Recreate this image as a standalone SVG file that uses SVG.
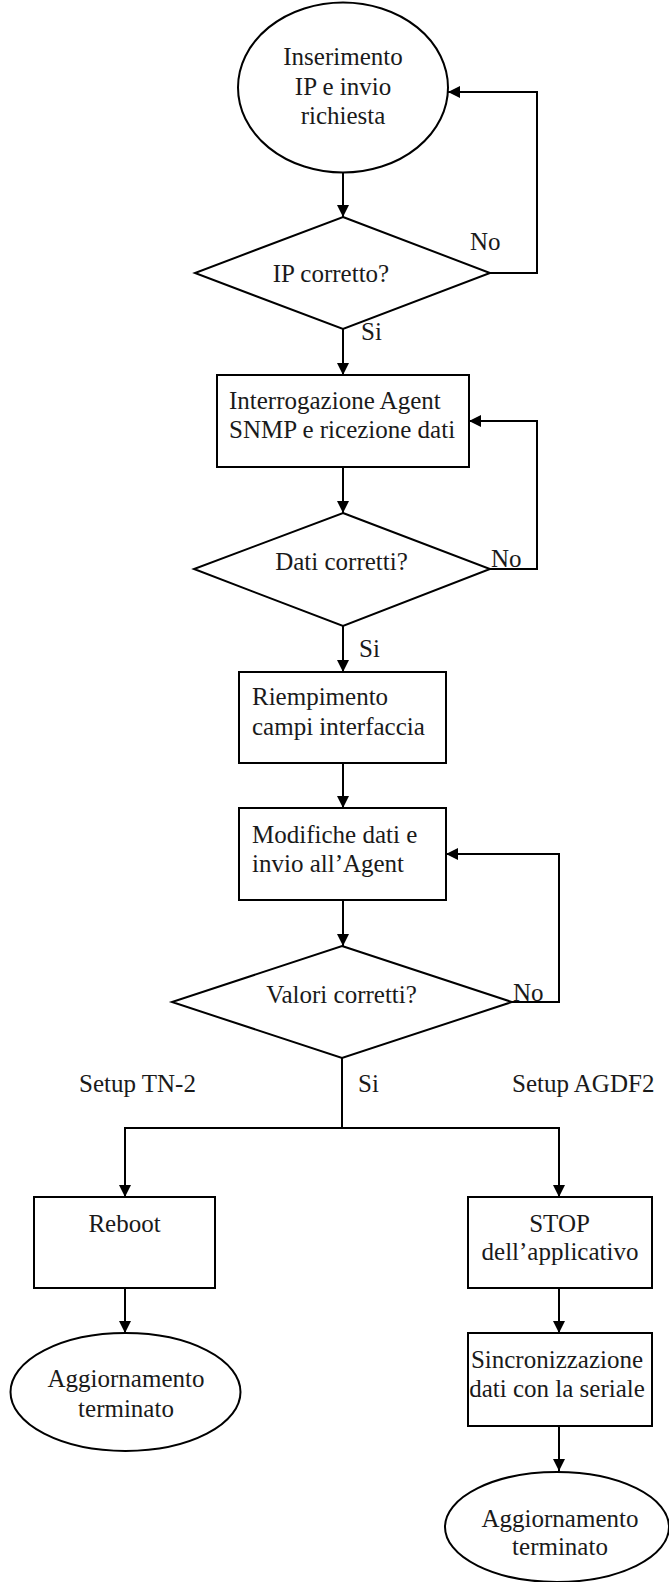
<svg xmlns="http://www.w3.org/2000/svg" width="669" height="1582" viewBox="0 0 669 1582">
<style>
.s{fill:#fff;stroke:#000;stroke-width:2}
.c{fill:none;stroke:#000;stroke-width:2}
text{font-family:"Liberation Serif","Times New Roman",serif;font-size:25px;fill:#1a1a1a}
.m{text-anchor:middle}
</style>
<defs>
<marker id="ah" markerUnits="userSpaceOnUse" markerWidth="13" markerHeight="13" refX="12" refY="6" orient="auto">
<path d="M0,0 L12,6 L0,12 z" fill="#000"/>
</marker>
</defs>
<rect width="669" height="1582" fill="#fff"/>
<g id="connectors" class="c" marker-end="url(#ah)">
<path d="M343,172 V217"/>
<path d="M490,273 H537 V92 H448"/>
<path d="M343,329 V375"/>
<path d="M490,569 H537 V421 H469"/>
<path d="M343,467 V513"/>
<path d="M343,626 V672"/>
<path d="M343,763 V808"/>
<path d="M512,1002 H559 V854 H446"/>
<path d="M343,900 V946"/>
<path d="M342,1058 V1128" marker-end="none"/>
<path d="M342,1128 H125 V1197"/>
<path d="M342,1128 H559 V1197"/>
<path d="M125,1288 V1333"/>
<path d="M559,1288 V1333"/>
<path d="M559,1426 V1471"/>
</g>
<g id="labels">
<text x="470" y="250">No</text>
<text x="361" y="340">Si</text>
<text x="491" y="567">No</text>
<text x="359" y="657">Si</text>
<text x="513" y="1001">No</text>
<text x="79" y="1092">Setup TN-2</text>
<text x="358" y="1092">Si</text>
<text x="512" y="1092">Setup AGDF2</text>
</g>
<g id="start">
<ellipse class="s" cx="343" cy="87.5" rx="105" ry="85"/>
<text class="m" x="343" y="65">Inserimento</text>
<text class="m" x="343" y="95">IP e invio</text>
<text class="m" x="343" y="124">richiesta</text>
</g>
<g id="d1">
<polygon class="s" points="343,217 490,273 343,329 195,273"/>
<text class="m" x="331" y="282">IP corretto?</text>
</g>
<g id="b1">
<rect class="s" x="217" y="375" width="252" height="92"/>
<text x="229" y="409">Interrogazione Agent</text>
<text x="229" y="438">SNMP e ricezione dati</text>
</g>
<g id="d2">
<polygon class="s" points="343,513 490,569 343,626 194,569"/>
<text class="m" x="341.5" y="570">Dati corretti?</text>
</g>
<g id="b2">
<rect class="s" x="239" y="672" width="207" height="91"/>
<text x="252" y="705">Riempimento</text>
<text x="252" y="735">campi interfaccia</text>
</g>
<g id="b3">
<rect class="s" x="239" y="808" width="207" height="92"/>
<text x="252" y="843">Modifiche dati e</text>
<text x="252" y="872">invio all’Agent</text>
</g>
<g id="d3">
<polygon class="s" points="342,946 512,1002 342,1058 172,1002"/>
<text class="m" x="341.5" y="1003">Valori corretti?</text>
</g>
<g id="reboot">
<rect class="s" x="34" y="1197" width="181" height="91"/>
<text class="m" x="124.5" y="1232">Reboot</text>
</g>
<g id="stop">
<rect class="s" x="468" y="1197" width="184" height="91"/>
<text class="m" x="559.5" y="1232">STOP</text>
<text class="m" x="560" y="1260">dell’applicativo</text>
</g>
<g id="end1">
<ellipse class="s" cx="125.5" cy="1392" rx="115" ry="59"/>
<text class="m" x="126" y="1387">Aggiornamento</text>
<text class="m" x="126" y="1417">terminato</text>
</g>
<g id="sync">
<rect class="s" x="468" y="1333" width="184" height="93"/>
<text class="m" x="557" y="1368">Sincronizzazione</text>
<text class="m" x="557" y="1397">dati con la seriale</text>
</g>
<g id="end2">
<ellipse class="s" cx="557" cy="1527" rx="112" ry="55"/>
<text class="m" x="560" y="1527">Aggiornamento</text>
<text class="m" x="560" y="1555">terminato</text>
</g>
</svg>
